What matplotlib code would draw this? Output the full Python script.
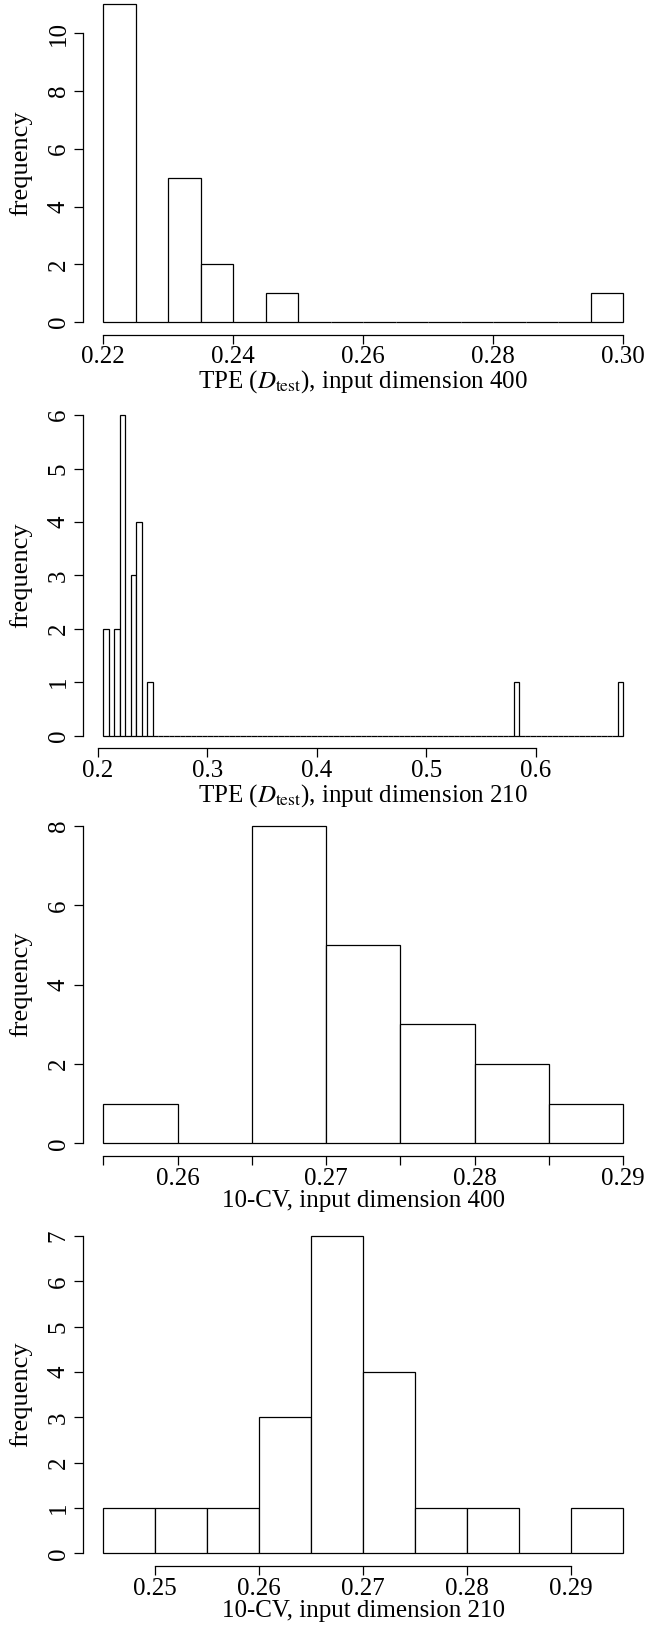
import matplotlib
matplotlib.use("Agg")
import matplotlib.pyplot as plt
import numpy as np

plt.rcParams['font.family'] = ['Liberation Serif', 'DejaVu Serif']
plt.rcParams['mathtext.fontset'] = 'stix'

# ---- data ----
p1_edges = [0.220, 0.225, 0.230, 0.235, 0.240, 0.245, 0.250, 0.255, 0.260,
            0.265, 0.270, 0.275, 0.280, 0.285, 0.290, 0.295, 0.300]
p1_counts = [11, 0, 5, 2, 0, 1, 0, 0, 0, 0, 0, 0, 0, 0, 0, 1]
p1_xticks = [0.22, 0.24, 0.26, 0.28, 0.30]
p1_xticklabels = ["0.22", "0.24", "0.26", "0.28", "0.30"]
p1_yticks = [0, 2, 4, 6, 8, 10]
p1_xlabel = r"TPE ($D_{\mathrm{test}}$), input dimension 400"

p2_edges = [round(0.205 + 0.005 * i, 3) for i in range(96)]
p2_counts = [0] * 95
p2_nonzero = {0.205: 2, 0.215: 2, 0.220: 6, 0.230: 3, 0.235: 4, 0.245: 1,
              0.580: 1, 0.675: 1}
for k, v in p2_nonzero.items():
    p2_counts[int(round((k - 0.205) / 0.005))] = v
p2_xticks = [0.2, 0.3, 0.4, 0.5, 0.6]
p2_xticklabels = ["0.2", "0.3", "0.4", "0.5", "0.6"]
p2_yticks = [0, 1, 2, 3, 4, 5, 6]
p2_xlabel = r"TPE ($D_{\mathrm{test}}$), input dimension 210"

p3_edges = [0.255, 0.260, 0.265, 0.270, 0.275, 0.280, 0.285, 0.290]
p3_counts = [1, 0, 8, 5, 3, 2, 1]
p3_xticks = [0.255, 0.260, 0.265, 0.270, 0.275, 0.280, 0.285, 0.290]
p3_xticklabels = ["", "0.26", "", "0.27", "", "0.28", "", "0.29"]
p3_yticks = [0, 2, 4, 6, 8]
p3_xlabel = "10-CV, input dimension 400"

p4_edges = [0.245, 0.250, 0.255, 0.260, 0.265, 0.270, 0.275, 0.280, 0.285,
            0.290, 0.295]
p4_counts = [1, 1, 1, 3, 7, 4, 1, 1, 0, 1]
p4_xticks = [0.25, 0.26, 0.27, 0.28, 0.29]
p4_xticklabels = ["0.25", "0.26", "0.27", "0.28", "0.29"]
p4_yticks = [0, 1, 2, 3, 4, 5, 6, 7]
p4_xlabel = "10-CV, input dimension 210"

panels = [
    (p1_edges, p1_counts, p1_xticks, p1_xticklabels, p1_yticks, p1_xlabel),
    (p2_edges, p2_counts, p2_xticks, p2_xticklabels, p2_yticks, p2_xlabel),
    (p3_edges, p3_counts, p3_xticks, p3_xticklabels, p3_yticks, p3_xlabel),
    (p4_edges, p4_counts, p4_xticks, p4_xticklabels, p4_yticks, p4_xlabel),
]

W, H = 660, 1625
fig = plt.figure(figsize=(W / 100, H / 100), dpi=100)

# plot regions in pixels: (top, bottom)
regions = [(-8.3, 334.7), (402.4, 748.4), (813.3, 1156.0), (1223.3, 1566.0)]
left_px, right_px = 82.5, 644.0
FS = 18
tick_len = 6.3

for (edges, counts, xt, xtl, yt, xlabel), (top, bot) in zip(panels, regions):
    ax = fig.add_axes([left_px / W, 1 - bot / H, (right_px - left_px) / W,
                       (bot - top) / H])
    e = np.array(edges)
    c = np.array(counts)
    ax.bar(e[:-1], c, width=np.diff(e), align='edge', facecolor='white',
           edgecolor='black', linewidth=0.9)
    xr = e[-1] - e[0]
    ax.set_xlim(e[0] - 0.04 * xr, e[-1] + 0.04 * xr)
    ymax = c.max()
    ax.set_ylim(-0.04 * ymax, ymax * 1.04)
    for s in ['top', 'right']:
        ax.spines[s].set_visible(False)
    ax.spines['left'].set_bounds(yt[0], yt[-1])
    ax.spines['bottom'].set_bounds(xt[0], xt[-1])
    for s in ['left', 'bottom']:
        ax.spines[s].set_linewidth(0.9)
    ax.set_xticks(xt)
    ax.set_xticklabels(xtl, fontsize=FS)
    ax.set_yticks(yt)
    ax.set_yticklabels([str(v) for v in yt], fontsize=FS, rotation=90,
                       va='center')
    ax.tick_params(direction='out', length=tick_len, width=0.9)
    ax.tick_params(axis='x', pad=2)
    ax.tick_params(axis='y', pad=3)
    ax.set_xlabel(xlabel, fontsize=FS, labelpad=0)
    ax.set_ylabel("frequency", fontsize=19, labelpad=11)

fig.savefig("out.png", dpi=100)
